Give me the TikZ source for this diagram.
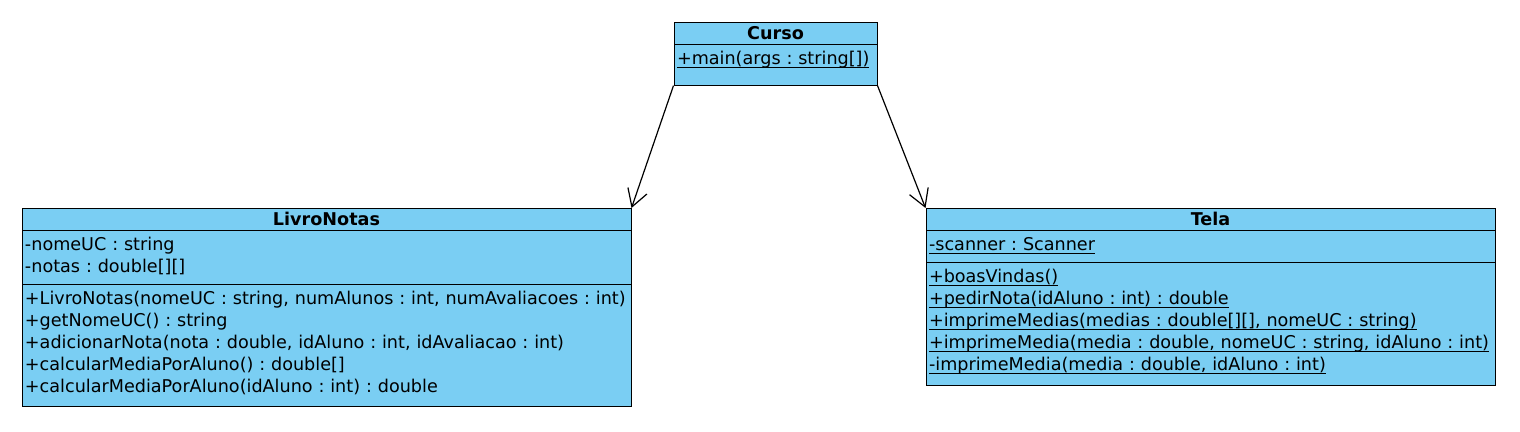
\documentclass[tikz,border=0pt]{standalone}
\usepackage{fontspec}
\setmainfont{DejaVu Sans}
\usetikzlibrary{arrows.meta,shapes.multipart}
\frenchspacing

\definecolor{classblue}{RGB}{122,206,243}
% membros estaticos sublinhados
\newcommand{\estatico}[1]{\underline{\smash{#1}}\strut}
\newcommand{\cabeca}[1]{\centering\smash{\textbf{#1}}\rule{0pt}{6.2pt}\par}

\begin{document}
\begin{tikzpicture}[
    x=0.5pt, y=-0.5pt,
    umlclass/.style={draw, line width=0.5pt, fill=classblue, rectangle split, anchor=north,
      inner xsep=1.5pt, inner ysep=2.2pt, align=left, font=\fontsize{8.8}{11}\selectfont},
    assoc/.style={-{Straight Barb[length=8.5pt,width=10pt]}, line width=0.6pt}
  ]
    \useasboundingbox (0,0) rectangle (1520,432);

    \node[umlclass, rectangle split parts=2, text width=98.5pt] (curso) at (775.5,22)
      {\cabeca{Curso}
       \nodepart{second}\estatico{+main(args : string[])}\rule[-7.6pt]{0pt}{14pt}};

    \node[umlclass, rectangle split parts=3, text width=301.5pt] (livro) at (326.5,208)
      {\cabeca{LivroNotas}
       \nodepart{second}\strut -nomeUC : string\\
       \strut -notas : double[][]
       \nodepart{third}\strut +LivroNotas(nomeUC : string, numAlunos : int, numAvaliacoes : int)\\
       \strut +getNomeUC() : string\\
       \strut +adicionarNota(nota : double, idAluno : int, idAvaliacao : int)\\
       \strut +calcularMediaPorAluno() : double[]\\
       \strut +calcularMediaPorAluno(idAluno : int) : double\rule[-4.5pt]{0pt}{1pt}};

    \node[umlclass, rectangle split parts=3, text width=281.5pt] (tela) at (1210.5,208)
      {\cabeca{Tela}
       \nodepart{second}\estatico{-scanner : Scanner}
       \nodepart{third}\estatico{+boasVindas()}\\
       \estatico{+pedirNota(idAluno : int) : double}\\
       \estatico{+imprimeMedias(medias : double[][], nomeUC : string)}\\
       \estatico{+imprimeMedia(media : double, nomeUC : string, idAluno : int)}\\
       \estatico{-imprimeMedia(media : double, idAluno : int)}\rule[-5pt]{0pt}{1pt}};

    \draw[assoc] (curso.south west) -- (livro.north east);
    \draw[assoc] (curso.south east) -- (tela.north west);
  \end{tikzpicture}
\end{document}
